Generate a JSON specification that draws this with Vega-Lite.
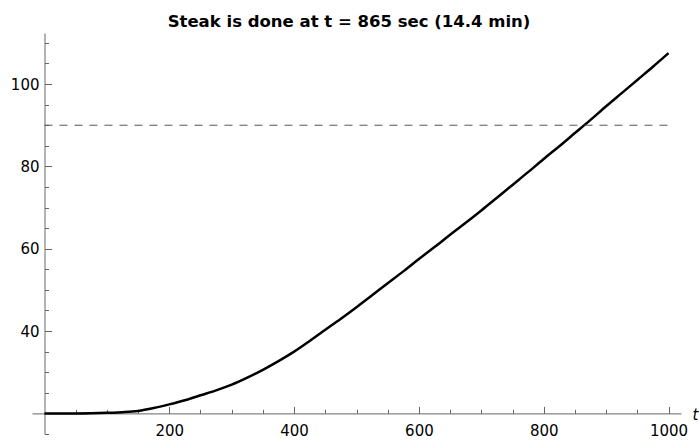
{
  "$schema": "https://vega.github.io/schema/vega-lite/v6.json",
  "width": 649,
  "height": 401,
  "autosize": {"type": "none"},
  "padding": {"left": 32, "top": 33, "right": 18, "bottom": 14},
  "background": "white",
  "config": {"view": {"stroke": null}},
  "title": {
    "text": "Steak is done at t = 865 sec (14.4 min)",
    "font": "DejaVu Sans",
    "fontSize": 16.5,
    "fontWeight": "bold",
    "color": "#000000",
    "anchor": "middle",
    "frame": "group",
    "dx": -7.5,
    "offset": 3
  },
  "resolve": {"axis": {"x": "independent", "y": "independent"}},
  "layer": [
    {
      "data": {
        "values": [
          {"t": 0, "T": 20}, {"t": 25, "T": 20}, {"t": 50, "T": 20}, {"t": 75, "T": 20.04},
          {"t": 100, "T": 20.15}, {"t": 125, "T": 20.3}, {"t": 150, "T": 20.6}, {"t": 175, "T": 21.3},
          {"t": 200, "T": 22.2}, {"t": 225, "T": 23.2}, {"t": 250, "T": 24.4}, {"t": 275, "T": 25.6},
          {"t": 300, "T": 27.0}, {"t": 325, "T": 28.7}, {"t": 350, "T": 30.6}, {"t": 375, "T": 32.7},
          {"t": 400, "T": 35.0}, {"t": 425, "T": 37.6}, {"t": 450, "T": 40.3}, {"t": 475, "T": 43.0},
          {"t": 500, "T": 45.8}, {"t": 525, "T": 48.7}, {"t": 550, "T": 51.6}, {"t": 575, "T": 54.5},
          {"t": 600, "T": 57.5}, {"t": 625, "T": 60.4}, {"t": 650, "T": 63.4}, {"t": 675, "T": 66.3},
          {"t": 700, "T": 69.3}, {"t": 725, "T": 72.4}, {"t": 750, "T": 75.5}, {"t": 775, "T": 78.6},
          {"t": 800, "T": 81.8}, {"t": 825, "T": 84.9}, {"t": 850, "T": 88.1}, {"t": 875, "T": 91.3},
          {"t": 900, "T": 94.6}, {"t": 925, "T": 97.8}, {"t": 950, "T": 101.0}, {"t": 975, "T": 104.2},
          {"t": 1000, "T": 107.5}
        ]
      },
      "mark": {"type": "line", "color": "#000000", "strokeWidth": 2.5, "interpolate": "monotone", "clip": false},
      "encoding": {
        "x": {
          "field": "t", "type": "quantitative",
          "scale": {"domain": [-20, 1020], "nice": false, "zero": false},
          "axis": {
            "orient": "bottom", "offset": -20.6, "values": [200, 400, 600, 800, 1000], "format": "d",
            "grid": false, "tickSize": -7, "tickColor": "#666666", "tickWidth": 1,
            "domainColor": "#666666", "domainWidth": 1,
            "labelFont": "DejaVu Sans", "labelFontSize": 15, "labelColor": "#000000",
            "labelPadding": 16.7, "labelFlush": false, "labelOverlap": false,
            "title": "t", "titleFont": "DejaVu Sans", "titleFontStyle": "italic", "titleFontWeight": "normal",
            "titleFontSize": 15, "titleColor": "#000000", "titleX": 660, "titleY": 1,
            "titleAlign": "left", "titleBaseline": "middle", "titleAngle": 0
          }
        },
        "y": {
          "field": "T", "type": "quantitative",
          "scale": {"domain": [15, 112.4], "nice": false, "zero": false},
          "axis": {
            "orient": "left", "offset": -12.5, "values": [40, 60, 80, 100], "format": "d",
            "grid": false, "tickSize": -7, "tickColor": "#666666", "tickWidth": 1,
            "domainColor": "#666666", "domainWidth": 1,
            "labelFont": "DejaVu Sans", "labelFontSize": 15, "labelColor": "#000000",
            "labelPadding": 12.5, "labelFlush": false, "labelOverlap": false,
            "title": null
          }
        }
      }
    },
    {
      "data": {"values": [{"t0": 0, "t1": 1000, "level": 90}]},
      "mark": {"type": "rule", "color": "#555555", "strokeWidth": 1, "strokeDash": [8, 7]},
      "encoding": {
        "x": {
          "field": "t0", "type": "quantitative",
          "axis": {
            "orient": "bottom", "offset": -20.6,
            "values": [50, 100, 150, 250, 300, 350, 450, 500, 550, 650, 700, 750, 850, 900, 950],
            "grid": false, "domain": false, "labels": false, "title": null,
            "tickSize": -4, "tickColor": "#666666", "tickWidth": 1
          }
        },
        "x2": {"field": "t1"},
        "y": {
          "field": "level", "type": "quantitative",
          "axis": {
            "orient": "left", "offset": -12.5,
            "values": [15, 25, 30, 35, 45, 50, 55, 65, 70, 75, 85, 90, 95, 105, 110],
            "grid": false, "domain": false, "labels": false, "title": null,
            "tickSize": -4, "tickColor": "#666666", "tickWidth": 1
          }
        }
      }
    }
  ]
}
